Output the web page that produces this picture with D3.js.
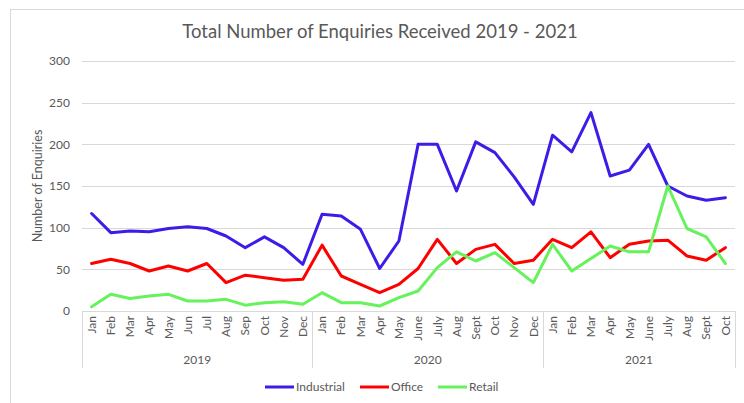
<!DOCTYPE html>
<html>
<head>
<meta charset="utf-8">
<script src="https://cdn.jsdelivr.net/npm/d3@7"></script>
<style>
  html, body { margin: 0; padding: 0; background: #fff; }
  svg text { font-family: "Lato", "Noto Sans", sans-serif; fill: #595959; }
</style>
</head>
<body>
<svg id="chart" width="744" height="403"></svg>
<script>
const years = ["2019", "2020", "2021"];
const months2019 = ["Jan","Feb","Mar","Apr","May","Jun","Jul","Aug","Sep","Oct","Nov","Dec"];
const months2020 = ["Jan","Feb","Mar","Apr","May","June","July","Aug","Sept","Oct","Nov","Dec"];
const months2021 = ["Jan","Feb","Mar","Apr","May","June","July","Aug","Sept","Oct"];
const seriesNames = ["Industrial", "Office", "Retail"];
const industrial = [117,94,96,95,99,101,99,90,76,89,76,56,
                    116,114,98,51,84,200,200,144,203,190,161,128,
                    211,191,238,162,169,200,150,138,133,136];
const office = [57,62,57,48,54,48,57,34,43,40,37,38,
                79,42,32,22,32,51,86,57,74,80,57,61,
                86,76,95,64,80,84,85,66,61,76];
const retail = [5,20,15,18,20,12,12,14,7,10,11,8,
                22,10,10,6,16,24,52,71,60,70,52,34,
                80,48,63,78,71,71,150,99,89,57];
const yTicks = [0,50,100,150,200,250,300];
const title = "Total Number of Enquiries Received 2019 - 2021";
const yTitle = "Number of Enquiries";

(function () {
const colors = {Industrial: "#3c1de8", Office: "#ff0000", Retail: "#66f25a"};

const monthGroups = [months2019, months2020, months2021];
const cats = [];
monthGroups.forEach((ms, gi) => ms.forEach(m => cats.push({year: years[gi], month: m, key: years[gi] + "-" + m})));

const svg = d3.select("#chart");
const pLeft = 82, pRight = 735, pTop = 61, pBottom = 311;

// chart border
svg.append("rect").attr("x", 10.5).attr("y", 9.5).attr("width", 760).attr("height", 420)
  .attr("fill", "none").attr("stroke", "#d9d9d9").attr("stroke-width", 1);

const x = d3.scaleBand().domain(cats.map(c => c.key)).range([pLeft, pRight]).paddingInner(0).paddingOuter(0);
const y = d3.scaleLinear().domain([0, 300]).range([pBottom, pTop]);

// gridlines
svg.append("g").selectAll("line").data(yTicks.filter(t => t > 0)).join("line")
  .attr("x1", pLeft).attr("x2", pRight)
  .attr("y1", d => Math.round(y(d)) + 0.5).attr("y2", d => Math.round(y(d)) + 0.5)
  .attr("stroke", "#d9d9d9").attr("stroke-width", 1);

// y axis labels
const yAxis = d3.axisLeft(y).tickValues(yTicks).tickSize(0).tickPadding(12);
const yg = svg.append("g").attr("transform", `translate(${pLeft},0)`).call(yAxis);
yg.select(".domain").remove();
yg.selectAll("text").style("font-size", "12px").style("font-family", "Lato, sans-serif").attr("fill", "#595959");

// x axis baseline
svg.append("line").attr("x1", pLeft).attr("x2", pRight)
  .attr("y1", pBottom + 0.5).attr("y2", pBottom + 0.5).attr("stroke", "#d9d9d9");

// month labels
const xAxis = d3.axisBottom(x).tickSize(0).tickFormat(k => cats.find(c => c.key === k).month);
const xg = svg.append("g").attr("transform", `translate(0,${pBottom})`).call(xAxis);
xg.select(".domain").remove();
xg.selectAll("text")
  .style("font-size", "12px").style("font-family", "Lato, sans-serif").attr("fill", "#595959")
  .attr("transform", "rotate(-90)")
  .attr("x", -5).attr("y", 0).attr("dy", "0.35em")
  .style("text-anchor", "end");

// year group dividers and labels
const bounds = [];
let idx = 0;
monthGroups.forEach((ms, gi) => {
  const first = cats[idx].key, last = cats[idx + ms.length - 1].key;
  bounds.push({year: years[gi], x0: x(first), x1: x(last) + x.bandwidth()});
  idx += ms.length;
});
const divX = [bounds[0].x0, ...bounds.map(b => b.x1)];
svg.append("g").selectAll("line").data(divX).join("line")
  .attr("x1", d => Math.round(d) + 0.5).attr("x2", d => Math.round(d) + 0.5)
  .attr("y1", pBottom).attr("y2", 368)
  .attr("stroke", "#d9d9d9");
svg.append("g").selectAll("text").data(bounds).join("text")
  .attr("x", d => (d.x0 + d.x1) / 2).attr("y", 364)
  .attr("text-anchor", "middle").style("font-size", "12px")
  .text(d => d.year);

// lines
const seriesData = {Industrial: industrial, Office: office, Retail: retail};
const line = d3.line().x((d, i) => x(cats[i].key) + x.bandwidth() / 2).y(d => y(d));
seriesNames.forEach(name => {
  svg.append("path").datum(seriesData[name])
    .attr("d", line).attr("fill", "none")
    .attr("stroke", colors[name]).attr("stroke-width", 3)
    .attr("stroke-linejoin", "round").attr("stroke-linecap", "round");
});

// title
svg.append("text").attr("x", 380).attr("y", 38).attr("text-anchor", "middle")
  .style("font-size", "18.5px").text(title);

// y title
svg.append("text").attr("transform", "translate(42,186) rotate(-90)")
  .attr("text-anchor", "middle").style("font-size", "12.5px").text(yTitle);

// legend
const legendX = [265, 360, 438];
const lg = svg.append("g");
seriesNames.forEach((name, i) => {
  lg.append("line").attr("x1", legendX[i]).attr("x2", legendX[i] + 29)
    .attr("y1", 387).attr("y2", 387).attr("stroke", colors[name]).attr("stroke-width", 3);
  lg.append("text").attr("x", legendX[i] + 31).attr("y", 391)
    .style("font-size", "12px").text(name);
});
})();
</script>
</body>
</html>
